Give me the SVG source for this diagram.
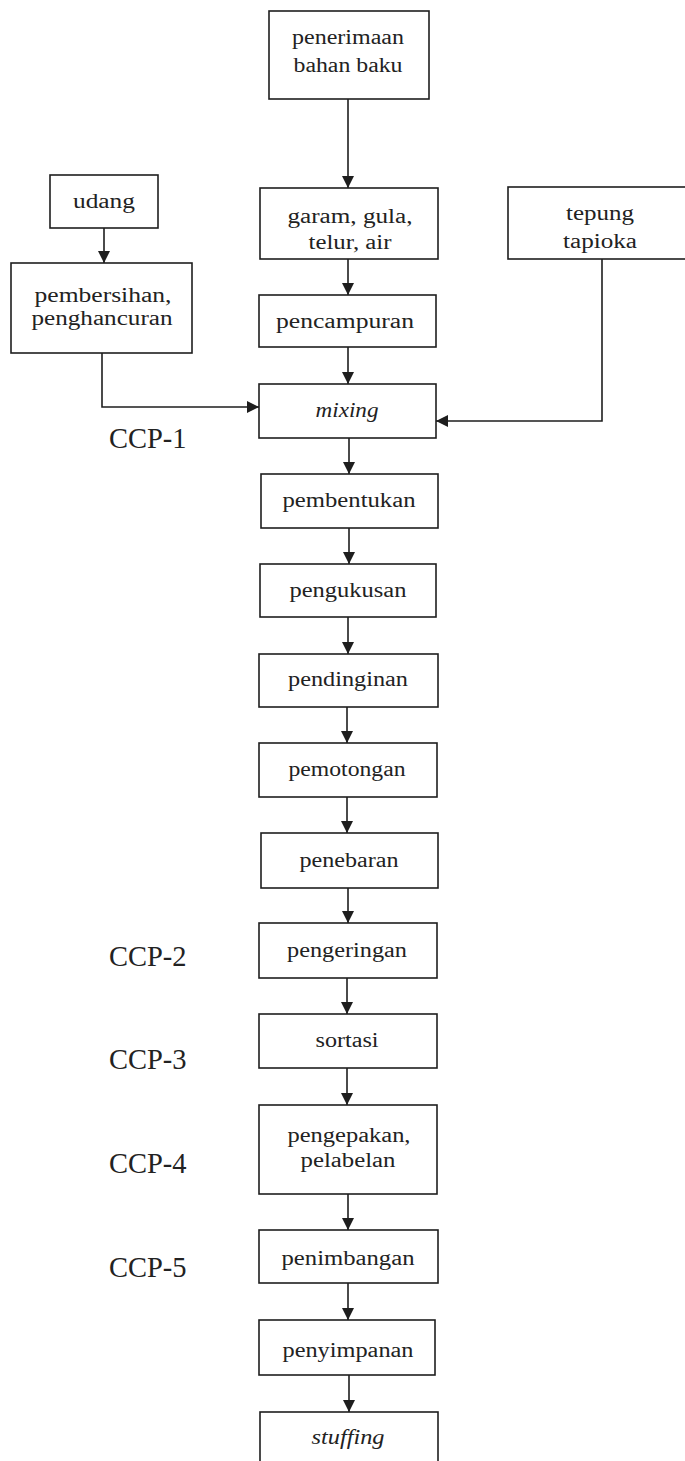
<svg xmlns="http://www.w3.org/2000/svg" width="685" height="1461" viewBox="0 0 685 1461">
<style>
.box{fill:#fff;stroke:#1e1e1e;stroke-width:1.6}
.t{font-family:"Liberation Serif","Times New Roman",serif;font-size:20px;fill:#222;text-anchor:middle}
.i{font-style:italic}
.ccp{font-family:"Liberation Serif","Times New Roman",serif;font-size:28.5px;fill:#222}
.c{fill:none;stroke:#1e1e1e;stroke-width:1.6}
</style>
<defs>
<marker id="ah" viewBox="0 0 12 12" refX="12" refY="6" markerWidth="12" markerHeight="12" markerUnits="userSpaceOnUse" orient="auto">
<path d="M0,0 L12,6 L0,12 z" fill="#1e1e1e"/>
</marker>
</defs>
<rect width="685" height="1461" fill="#fff"/>
<g id="connectors">
<line class="c" x1="348" y1="99" x2="348" y2="188" marker-end="url(#ah)"/>
<line class="c" x1="348" y1="259" x2="348" y2="295" marker-end="url(#ah)"/>
<line class="c" x1="348" y1="347" x2="348" y2="384" marker-end="url(#ah)"/>
<line class="c" x1="349" y1="438" x2="349" y2="474" marker-end="url(#ah)"/>
<line class="c" x1="349" y1="528" x2="349" y2="564" marker-end="url(#ah)"/>
<line class="c" x1="348" y1="617" x2="348" y2="654" marker-end="url(#ah)"/>
<line class="c" x1="347" y1="707" x2="347" y2="743" marker-end="url(#ah)"/>
<line class="c" x1="347" y1="797" x2="347" y2="833" marker-end="url(#ah)"/>
<line class="c" x1="348" y1="888" x2="348" y2="923" marker-end="url(#ah)"/>
<line class="c" x1="347" y1="978" x2="347" y2="1014" marker-end="url(#ah)"/>
<line class="c" x1="347" y1="1068" x2="347" y2="1105" marker-end="url(#ah)"/>
<line class="c" x1="348" y1="1194" x2="348" y2="1230" marker-end="url(#ah)"/>
<line class="c" x1="348" y1="1283" x2="348" y2="1320" marker-end="url(#ah)"/>
<line class="c" x1="349" y1="1375" x2="349" y2="1412" marker-end="url(#ah)"/>
<line class="c" x1="104" y1="228" x2="104" y2="263" marker-end="url(#ah)"/>
<path class="c" d="M102,353 V407 H259" marker-end="url(#ah)"/>
<path class="c" d="M602,259 V421 H436" marker-end="url(#ah)"/>
</g>
<g id="penerimaan">
<rect class="box" x="269" y="11" width="160" height="88"/>
<text class="t" x="348" y="44" textLength="112" lengthAdjust="spacingAndGlyphs">penerimaan</text>
<text class="t" x="348" y="72" textLength="109" lengthAdjust="spacingAndGlyphs">bahan baku</text>
</g>
<g id="garam">
<rect class="box" x="260" y="188" width="178" height="71"/>
<text class="t" x="350" y="223" textLength="125" lengthAdjust="spacingAndGlyphs">garam, gula,</text>
<text class="t" x="350" y="249" textLength="83" lengthAdjust="spacingAndGlyphs">telur, air</text>
</g>
<g id="udang">
<rect class="box" x="50" y="175" width="108" height="53"/>
<text class="t" x="104" y="208" textLength="62" lengthAdjust="spacingAndGlyphs">udang</text>
</g>
<g id="pembersihan">
<rect class="box" x="11" y="263" width="181" height="90"/>
<text class="t" x="103" y="302" textLength="137" lengthAdjust="spacingAndGlyphs">pembersihan,</text>
<text class="t" x="102" y="325" textLength="141" lengthAdjust="spacingAndGlyphs">penghancuran</text>
</g>
<g id="tepung">
<rect class="box" x="508" y="187" width="190" height="72"/>
<text class="t" x="600" y="220" textLength="68" lengthAdjust="spacingAndGlyphs">tepung</text>
<text class="t" x="600" y="248" textLength="74" lengthAdjust="spacingAndGlyphs">tapioka</text>
</g>
<g id="pencampuran">
<rect class="box" x="259" y="295" width="177" height="52"/>
<text class="t" x="345" y="328" textLength="138" lengthAdjust="spacingAndGlyphs">pencampuran</text>
</g>
<g id="mixing">
<rect class="box" x="259" y="384" width="177" height="54"/>
<text class="t i" x="347" y="417" textLength="63" lengthAdjust="spacingAndGlyphs">mixing</text>
</g>
<g id="pembentukan">
<rect class="box" x="261" y="474" width="177" height="54"/>
<text class="t" x="349" y="507" textLength="133" lengthAdjust="spacingAndGlyphs">pembentukan</text>
</g>
<g id="pengukusan">
<rect class="box" x="260" y="564" width="176" height="53"/>
<text class="t" x="348" y="597" textLength="117" lengthAdjust="spacingAndGlyphs">pengukusan</text>
</g>
<g id="pendinginan">
<rect class="box" x="259" y="654" width="179" height="53"/>
<text class="t" x="348" y="686" textLength="120" lengthAdjust="spacingAndGlyphs">pendinginan</text>
</g>
<g id="pemotongan">
<rect class="box" x="259" y="743" width="178" height="54"/>
<text class="t" x="347" y="776" textLength="117" lengthAdjust="spacingAndGlyphs">pemotongan</text>
</g>
<g id="penebaran">
<rect class="box" x="261" y="833" width="177" height="55"/>
<text class="t" x="349" y="867" textLength="99" lengthAdjust="spacingAndGlyphs">penebaran</text>
</g>
<g id="pengeringan">
<rect class="box" x="259" y="923" width="178" height="55"/>
<text class="t" x="347" y="957" textLength="120" lengthAdjust="spacingAndGlyphs">pengeringan</text>
</g>
<g id="sortasi">
<rect class="box" x="259" y="1014" width="178" height="54"/>
<text class="t" x="347" y="1047" textLength="63" lengthAdjust="spacingAndGlyphs">sortasi</text>
</g>
<g id="pengepakan">
<rect class="box" x="259" y="1105" width="178" height="89"/>
<text class="t" x="349" y="1142" textLength="123" lengthAdjust="spacingAndGlyphs">pengepakan,</text>
<text class="t" x="348" y="1167" textLength="95" lengthAdjust="spacingAndGlyphs">pelabelan</text>
</g>
<g id="penimbangan">
<rect class="box" x="259" y="1230" width="179" height="53"/>
<text class="t" x="348" y="1265" textLength="133" lengthAdjust="spacingAndGlyphs">penimbangan</text>
</g>
<g id="penyimpanan">
<rect class="box" x="259" y="1320" width="176" height="55"/>
<text class="t" x="348" y="1357" textLength="131" lengthAdjust="spacingAndGlyphs">penyimpanan</text>
</g>
<g id="stuffing">
<rect class="box" x="260" y="1412" width="178" height="60"/>
<text class="t i" x="348" y="1444" textLength="73" lengthAdjust="spacingAndGlyphs">stuffing</text>
</g>
<g id="ccp-labels">
<text class="ccp" x="109" y="448">CCP-1</text>
<text class="ccp" x="109" y="966">CCP-2</text>
<text class="ccp" x="109" y="1069">CCP-3</text>
<text class="ccp" x="109" y="1173">CCP-4</text>
<text class="ccp" x="109" y="1277">CCP-5</text>
</g>
</svg>
